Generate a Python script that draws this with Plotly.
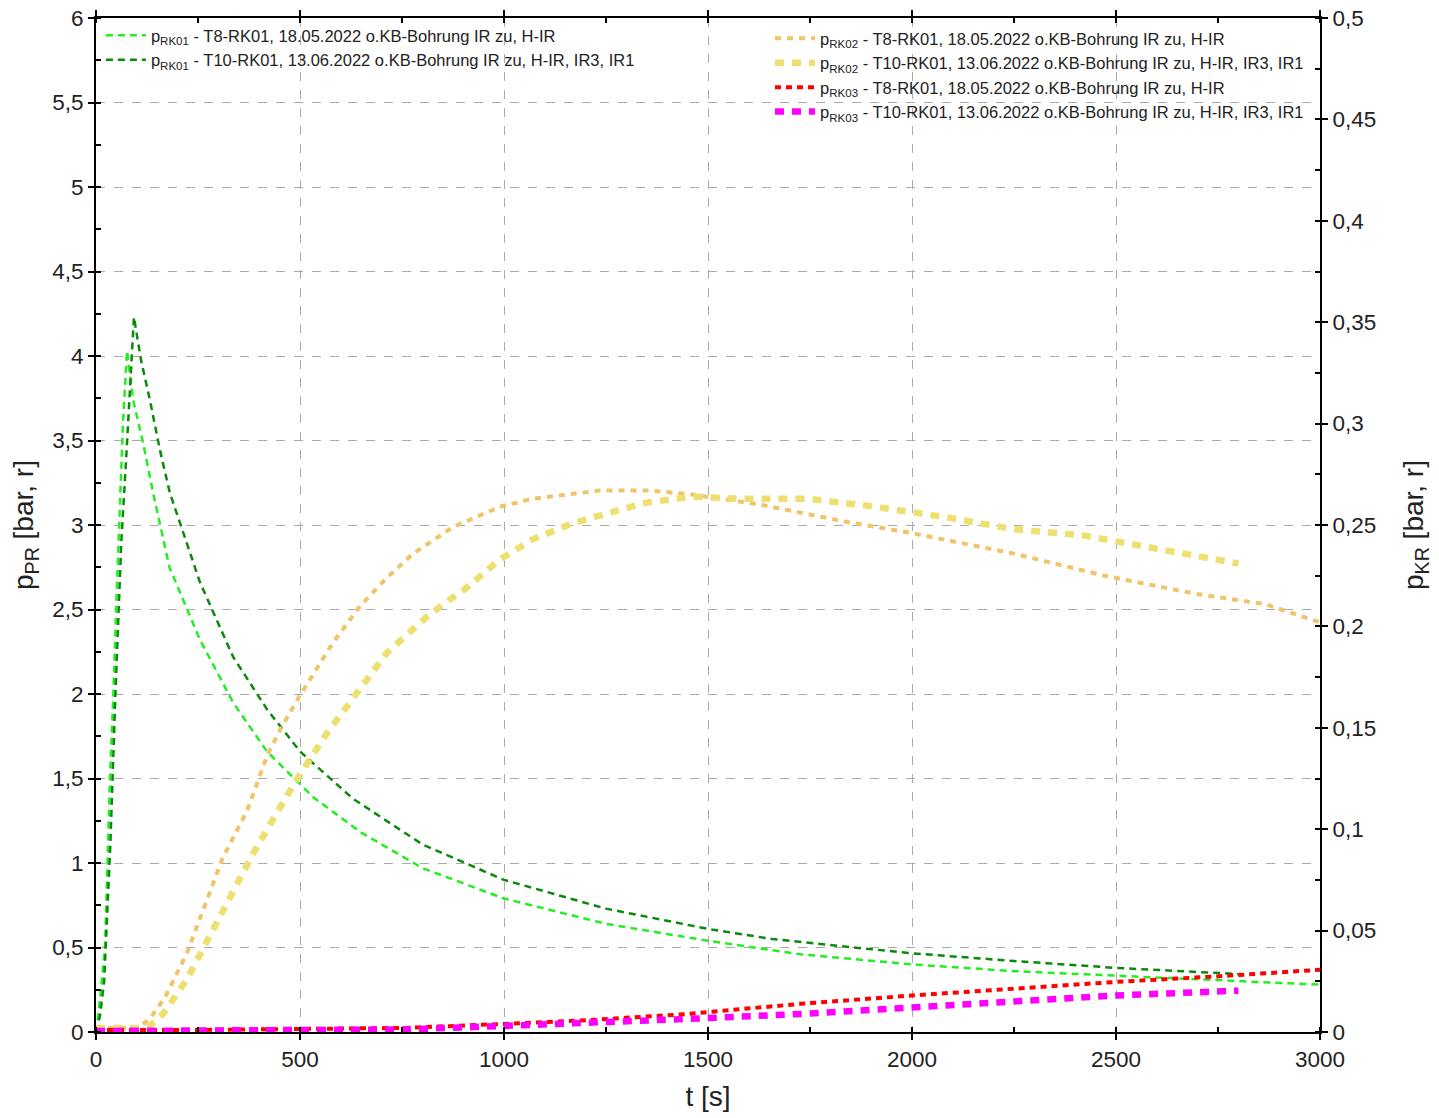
import plotly.graph_objects as go

# ---------------- data ----------------
t_rk01_t8 = [0, 5, 12, 22, 34, 42, 50, 59, 66, 76, 91, 115, 140, 180, 255, 336, 419, 532, 650,
             800, 1000, 1250, 1500, 1727, 2000, 2250, 2500, 2750, 3000]
p_rk01_t8 = [0, 0.09, 0.25, 0.5, 1.49, 1.96, 2.55, 3.17, 3.6, 4.03, 3.74, 3.49, 3.19, 2.75, 2.32,
             1.95, 1.66, 1.39, 1.18, 0.97, 0.79, 0.64, 0.54, 0.46, 0.40, 0.36, 0.333, 0.305, 0.28]

t_rk01_t10 = [0, 10, 20, 35, 47, 62, 75, 85, 93, 110, 132, 157, 181, 255, 336, 419, 500, 630,
              800, 1000, 1250, 1500, 1658, 1993, 2250, 2496, 2650, 2800]
p_rk01_t10 = [0, 0.1, 0.3, 1.1, 1.96, 2.9, 3.44, 3.9, 4.23, 3.98, 3.74, 3.44, 3.19, 2.66, 2.22,
              1.91, 1.66, 1.38, 1.11, 0.90, 0.73, 0.61, 0.55, 0.467, 0.42, 0.38, 0.36, 0.343]

t_rk02_t8 = [0, 50, 100, 130, 169, 223, 272, 311, 370, 419, 451, 500, 581, 647, 713, 778, 875,
             990, 1071, 1235, 1358, 1461, 1629, 1854, 2000, 2247, 2472, 2697, 2865, 3000]
p_rk02_t8 = [0.002, 0.002, 0.002, 0.006, 0.017, 0.039, 0.065, 0.086, 0.109, 0.136, 0.149, 0.166,
             0.192, 0.210, 0.224, 0.236, 0.249, 0.259, 0.263, 0.267, 0.267, 0.265, 0.260, 0.251,
             0.246, 0.236, 0.225, 0.216, 0.211, 0.202]

t_rk02_t10 = [0, 60, 110, 132, 165, 223, 272, 328, 385, 443, 500, 565, 630, 713, 818, 908, 990,
              1071, 1170, 1277, 1348, 1461, 1573, 1742, 1910, 2079, 2247, 2416, 2584, 2800]
p_rk02_t10 = [0.002, 0.002, 0.002, 0.003, 0.009, 0.026, 0.045, 0.067, 0.088, 0.108, 0.127, 0.147,
              0.165, 0.187, 0.206, 0.219, 0.233, 0.243, 0.251, 0.257, 0.261, 0.264, 0.263, 0.263,
              0.259, 0.254, 0.248, 0.245, 0.239, 0.231]

t_rk03_t8 = [0, 250, 500, 752, 1000, 1220, 1445, 1727, 2000, 2270, 2500, 2762, 3000]
p_rk03_t8 = [0.001, 0.001, 0.0015, 0.002, 0.004, 0.006, 0.0088, 0.0139, 0.018, 0.0217, 0.0247,
             0.0276, 0.0307]

t_rk03_t10 = [0, 250, 500, 752, 1000, 1220, 1445, 1727, 2000, 2270, 2500, 2800]
p_rk03_t10 = [0.0005, 0.0005, 0.0008, 0.0012, 0.003, 0.0045, 0.0064, 0.0089, 0.0123, 0.0155,
              0.018, 0.0204]

names = {
    "rk01_t8": "p<sub>RK01</sub> - T8-RK01, 18.05.2022 o.KB-Bohrung IR zu, H-IR",
    "rk01_t10": "p<sub>RK01</sub> - T10-RK01, 13.06.2022 o.KB-Bohrung IR zu, H-IR, IR3, IR1",
    "rk02_t8": "p<sub>RK02</sub> - T8-RK01, 18.05.2022 o.KB-Bohrung IR zu, H-IR",
    "rk02_t10": "p<sub>RK02</sub> - T10-RK01, 13.06.2022 o.KB-Bohrung IR zu, H-IR, IR3, IR1",
    "rk03_t8": "p<sub>RK03</sub> - T8-RK01, 18.05.2022 o.KB-Bohrung IR zu, H-IR",
    "rk03_t10": "p<sub>RK03</sub> - T10-RK01, 13.06.2022 o.KB-Bohrung IR zu, H-IR, IR3, IR1",
}

FONT = "Liberation Sans, Arial, sans-serif"

fig = go.Figure()

fig.add_trace(go.Scatter(x=t_rk02_t8, y=p_rk02_t8, yaxis="y2", mode="lines", name=names["rk02_t8"],
                         line=dict(color="#F0C468", width=4, dash="6px,6px"), legend="legend2"))
fig.add_trace(go.Scatter(x=t_rk02_t10, y=p_rk02_t10, yaxis="y2", mode="lines", name=names["rk02_t10"],
                         line=dict(color="#EEE070", width=6.5, dash="9px,8px"), legend="legend2"))
fig.add_trace(go.Scatter(x=t_rk03_t8, y=p_rk03_t8, yaxis="y2", mode="lines", name=names["rk03_t8"],
                         line=dict(color="#FF0000", width=4, dash="6px,5px"), legend="legend2"))
fig.add_trace(go.Scatter(x=t_rk03_t10, y=p_rk03_t10, yaxis="y2", mode="lines", name=names["rk03_t10"],
                         line=dict(color="#FF00FF", width=6.5, dash="9px,8px"), legend="legend2"))
fig.add_trace(go.Scatter(x=t_rk01_t8, y=p_rk01_t8, mode="lines", name=names["rk01_t8"],
                         line=dict(color="#22EE22", width=2.5, dash="7px,5px"), legend="legend"))
fig.add_trace(go.Scatter(x=t_rk01_t10, y=p_rk01_t10, mode="lines", name=names["rk01_t10"],
                         line=dict(color="#0A8A0A", width=2.5, dash="7px,5px"), legend="legend"))

axis_common = dict(
    showline=True, linecolor="black", linewidth=2,
    ticks="outside", ticklen=6, tickwidth=1.5, tickcolor="black",
    tickfont=dict(family=FONT, size=22.5, color="#222"),
    zeroline=False, automargin=False, ticklabeloverflow="allow",
)

fig.update_layout(
    width=1439, height=1118,
    paper_bgcolor="white", plot_bgcolor="white",
    margin=dict(l=96, r=119, t=18, b=86),
    separators=",.",
    font=dict(family=FONT, color="#222"),
    xaxis=dict(
        range=[0, 3000], dtick=500, tick0=0,
        showgrid=True, gridcolor="#AAAAAA", gridwidth=1, griddash="dash",
        mirror="ticks",
        minor=dict(dtick=250, ticks="inside", ticklen=5, tickcolor="black", showgrid=False),
        title=dict(text="t [s]", font=dict(family=FONT, size=28, color="#222"), standoff=15),
        **axis_common,
    ),
    yaxis=dict(
        range=[0, 6], dtick=0.5, tick0=0,
        showgrid=True, gridcolor="#AAAAAA", gridwidth=1, griddash="dash",
        minor=dict(dtick=0.25, ticks="inside", ticklen=5, tickcolor="black", showgrid=False),
        title=dict(text="p<sub>PR</sub> [bar, r]", font=dict(family=FONT, size=28, color="#222"), standoff=10),
        **axis_common,
    ),
    yaxis2=dict(
        range=[0, 0.5], dtick=0.05, tick0=0,
        overlaying="y", side="right", showgrid=False,
        minor=dict(dtick=0.025, ticks="inside", ticklen=5, tickcolor="black", showgrid=False),
        title=dict(text="p<sub>KR</sub> [bar, r]", font=dict(family=FONT, size=28, color="#222"), standoff=28),
        **axis_common,
    ),
    legend=dict(
        x=0.004, y=1.0, xanchor="left", yanchor="top",
        bgcolor="rgba(0,0,0,0)", font=dict(family=FONT, size=16.5, color="#222"),
        tracegroupgap=0, itemwidth=40, traceorder="normal",
    ),
    legend2=dict(
        x=0.991, y=0.997, xanchor="right", yanchor="top",
        bgcolor="rgba(0,0,0,0)", font=dict(family=FONT, size=16.5, color="#222"),
        tracegroupgap=0, itemwidth=40, traceorder="normal",
    ),
    showlegend=True,
)

fig.write_html("out.html", config={"displayModeBar": False},
               post_script="document.body.style.margin='0';")
